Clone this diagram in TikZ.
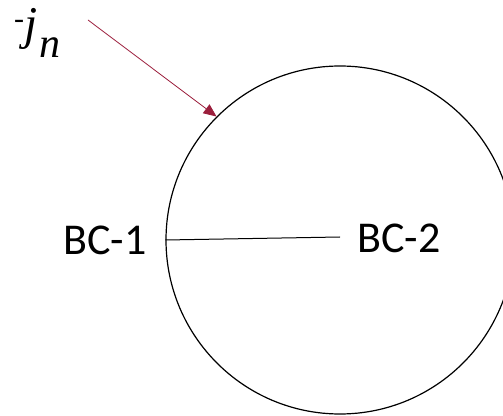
\documentclass[tikz,border=0pt]{standalone}
\usepackage{fontspec}
\newfontfamily\calib{Carlito}
\newfontfamily\serifit{Liberation Serif}
\usetikzlibrary{arrows.meta}
\definecolor{arrowred}{RGB}{155,30,60}
\tikzset{
  bclabel/.style={font=\calib\fontsize{44}{50}\selectfont, inner sep=0pt, anchor=base west},
  fluxarrow/.style={draw=arrowred, line width=0.8pt, -{Triangle[length=13pt,width=11pt,fill=arrowred]}},
  boundary/.style={draw=black, line width=1.2pt}
}
\begin{document}
\begin{tikzpicture}[x=1pt,y=1pt]
\useasboundingbox (0,0) rectangle (503,415);
\clip (0,0) rectangle (503,415);
\node[boundary, circle, minimum size=348pt, inner sep=0pt] (c) at (340,175) {};
\coordinate (r) at (340,178);
\draw[line width=1pt] (c.west) -- (r);
\node[bclabel] (bc1) at (63,160) {BC-1};
\node[bclabel] (bc2) at (357,162) {BC-2};
\node[inner sep=0pt, anchor=base west, font=\serifit] (jn) at (14,375)
  {\raisebox{11pt}{\fontsize{30}{32}\selectfont -}\kern0pt{\fontsize{47}{50}\selectfont\itshape j}\kern2pt\raisebox{-18pt}{\fontsize{42}{46}\selectfont\itshape n}};
\coordinate (s) at (88,395);
\draw[fluxarrow] (s) -- (c.135);
\end{tikzpicture}
\end{document}
